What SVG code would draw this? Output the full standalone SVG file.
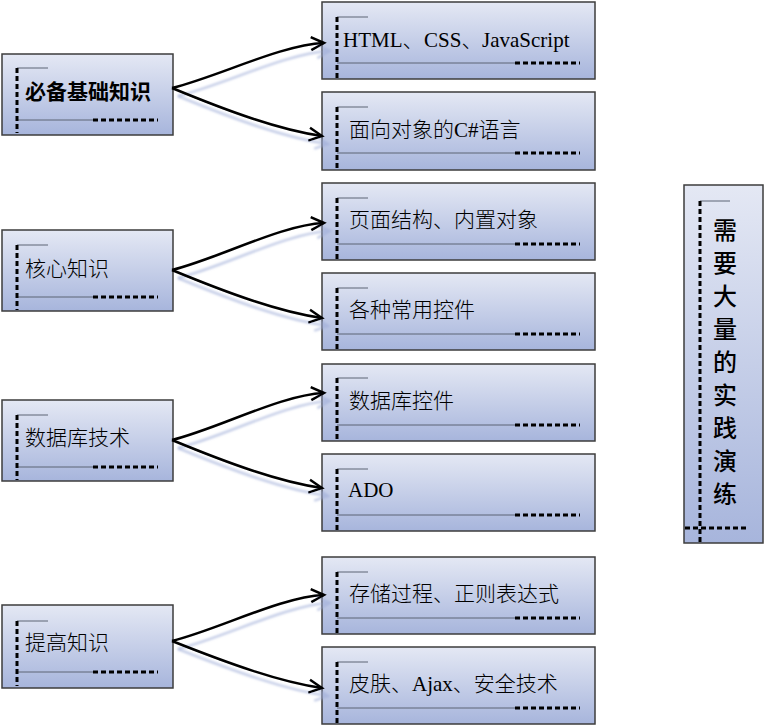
<svg xmlns="http://www.w3.org/2000/svg" width="764" height="726" viewBox="0 0 764 726">
<defs>
<linearGradient id="g" x1="0" y1="0" x2="0" y2="1">
<stop offset="0" stop-color="#e4e8f4"/>
<stop offset="1" stop-color="#a7b5dc"/>
</linearGradient>
<marker id="arr" markerUnits="userSpaceOnUse" viewBox="0 0 18 18" refX="15" refY="9" markerWidth="18" markerHeight="18" orient="auto">
<path d="M2,2.5 L15,9 L2,15.5" fill="none" stroke="#000" stroke-width="2.5" stroke-linejoin="miter"/>
</marker>
<filter id="sh" x="-10%" y="-20%" width="130%" height="160%">
<feDropShadow dx="6" dy="8" stdDeviation="1.2" flood-color="#9fadd8" flood-opacity="0.6"/>
</filter>
</defs>
<style>
.box{fill:url(#g);stroke:#3d3d3d;stroke-width:1.5}
.dv{stroke:#000;stroke-width:3;stroke-dasharray:5 3;fill:none}
.dh{stroke:#000;stroke-width:3;stroke-dasharray:5 3;fill:none}
.thin{stroke:#5d6474;stroke-width:1;fill:none}
.t{font-family:"Liberation Serif","Noto Sans CJK SC",serif;font-size:21px;font-weight:300;fill:#000}
.l{font-family:"Liberation Serif",serif;font-weight:normal}
.b{font-weight:bold}
.v{font-family:"Noto Sans CJK SC",sans-serif;font-size:24px;font-weight:500;fill:#000;text-anchor:middle}
.c{fill:none;stroke:#000;stroke-width:2.5;marker-end:url(#arr);filter:url(#sh)}
</style>

<g id="n1">
<rect class="box" x="2" y="54" width="171" height="81"/>
<line class="thin" x1="17" y1="68" x2="48" y2="68"/>
<line class="thin" x1="17" y1="120" x2="93" y2="120"/>
<line class="dh" x1="93" y1="120" x2="158" y2="120"/>
<line class="dv" x1="17" y1="68" x2="17" y2="133"/>
<text class="t b" x="25" y="99">必备基础知识</text>
</g>
<g id="n2">
<rect class="box" x="2" y="230" width="171" height="81"/>
<line class="thin" x1="17" y1="245" x2="48" y2="245"/>
<line class="thin" x1="17" y1="297" x2="93" y2="297"/>
<line class="dh" x1="93" y1="297" x2="158" y2="297"/>
<line class="dv" x1="17" y1="245" x2="17" y2="310"/>
<text class="t" x="25" y="276">核心知识</text>
</g>
<g id="n3">
<rect class="box" x="2" y="400" width="171" height="81"/>
<line class="thin" x1="17" y1="415" x2="48" y2="415"/>
<line class="thin" x1="17" y1="467" x2="93" y2="467"/>
<line class="dh" x1="93" y1="467" x2="158" y2="467"/>
<line class="dv" x1="17" y1="415" x2="17" y2="480"/>
<text class="t" x="25" y="445">数据库技术</text>
</g>
<g id="n4">
<rect class="box" x="2" y="605" width="171" height="83"/>
<line class="thin" x1="17" y1="621" x2="48" y2="621"/>
<line class="thin" x1="17" y1="672" x2="93" y2="672"/>
<line class="dh" x1="93" y1="672" x2="158" y2="672"/>
<line class="dv" x1="17" y1="621" x2="17" y2="686"/>
<text class="t" x="25" y="650">提高知识</text>
</g>

<g id="r1">
<rect class="box" x="322" y="2" width="273" height="77"/>
<line class="thin" x1="337" y1="17" x2="368" y2="17"/>
<line class="thin" x1="337" y1="63" x2="515" y2="63"/>
<line class="dh" x1="515" y1="63" x2="580" y2="63"/>
<line class="dv" x1="337" y1="17" x2="337" y2="81"/>
<text class="t" x="343" y="47"><tspan class="l">HTML</tspan>、<tspan class="l" x="424">CSS</tspan>、<tspan class="l" x="482">JavaScript</tspan></text>
</g>
<g id="r2">
<rect class="box" x="322" y="92" width="273" height="78"/>
<line class="thin" x1="337" y1="107" x2="368" y2="107"/>
<line class="thin" x1="337" y1="153" x2="515" y2="153"/>
<line class="dh" x1="515" y1="153" x2="580" y2="153"/>
<line class="dv" x1="337" y1="107" x2="337" y2="171"/>
<text class="t" x="349" y="137">面向对象的<tspan class="l">C#</tspan>语言</text>
</g>
<g id="r3">
<rect class="box" x="322" y="183" width="273" height="77"/>
<line class="thin" x1="337" y1="198" x2="368" y2="198"/>
<line class="thin" x1="337" y1="244" x2="515" y2="244"/>
<line class="dh" x1="515" y1="244" x2="580" y2="244"/>
<line class="dv" x1="337" y1="198" x2="337" y2="261"/>
<text class="t" x="349" y="227">页面结构、内置对象</text>
</g>
<g id="r4">
<rect class="box" x="322" y="273" width="273" height="77"/>
<line class="thin" x1="337" y1="288" x2="368" y2="288"/>
<line class="thin" x1="337" y1="334" x2="515" y2="334"/>
<line class="dh" x1="515" y1="334" x2="580" y2="334"/>
<line class="dv" x1="337" y1="288" x2="337" y2="351"/>
<text class="t" x="349" y="317">各种常用控件</text>
</g>
<g id="r5">
<rect class="box" x="322" y="364" width="273" height="77"/>
<line class="thin" x1="337" y1="378" x2="368" y2="378"/>
<line class="thin" x1="337" y1="425" x2="515" y2="425"/>
<line class="dh" x1="515" y1="425" x2="580" y2="425"/>
<line class="dv" x1="337" y1="378" x2="337" y2="442"/>
<text class="t" x="349" y="408">数据库控件</text>
</g>
<g id="r6">
<rect class="box" x="322" y="454" width="273" height="77"/>
<line class="thin" x1="337" y1="469" x2="368" y2="469"/>
<line class="thin" x1="337" y1="515" x2="515" y2="515"/>
<line class="dh" x1="515" y1="515" x2="580" y2="515"/>
<line class="dv" x1="337" y1="469" x2="337" y2="532"/>
<text class="t l" x="348" y="497">ADO</text>
</g>
<g id="r7">
<rect class="box" x="322" y="557" width="273" height="77"/>
<line class="thin" x1="337" y1="572" x2="368" y2="572"/>
<line class="thin" x1="337" y1="618" x2="515" y2="618"/>
<line class="dh" x1="515" y1="618" x2="580" y2="618"/>
<line class="dv" x1="337" y1="572" x2="337" y2="635"/>
<text class="t" x="349" y="601">存储过程、正则表达式</text>
</g>
<g id="r8">
<rect class="box" x="322" y="647" width="273" height="77"/>
<line class="thin" x1="337" y1="662" x2="368" y2="662"/>
<line class="thin" x1="337" y1="708" x2="515" y2="708"/>
<line class="dh" x1="515" y1="708" x2="580" y2="708"/>
<line class="dv" x1="337" y1="662" x2="337" y2="725"/>
<text class="t" x="349" y="691">皮肤、<tspan class="l">Ajax</tspan>、安全技术</text>
</g>

<g id="practice">
<rect class="box" x="684" y="185" width="79" height="358"/>
<line class="thin" x1="700" y1="201" x2="730" y2="201"/>
<line class="dh" x1="685" y1="528" x2="748" y2="528"/>
<line class="dv" x1="700" y1="201" x2="700" y2="543"/>
<text class="v" x="725" y="239">需</text>
<text class="v" x="725" y="272">要</text>
<text class="v" x="725" y="305">大</text>
<text class="v" x="725" y="338">量</text>
<text class="v" x="725" y="371">的</text>
<text class="v" x="725" y="404">实</text>
<text class="v" x="725" y="437">践</text>
<text class="v" x="725" y="470">演</text>
<text class="v" x="725" y="503">练</text>
</g>

<g id="connectors">
<path class="c" d="M172,88 C220,76 280,45 324,43"/>
<path class="c" d="M172,88 C230,112 280,130 322,136"/>
<path class="c" d="M172,270 C220,258 280,225 324,223"/>
<path class="c" d="M172,270 C230,294 280,312 322,318"/>
<path class="c" d="M172,440 C220,428 280,395 324,393"/>
<path class="c" d="M172,440 C230,464 280,482 322,488"/>
<path class="c" d="M172,641 C220,629 280,597 324,595"/>
<path class="c" d="M172,641 C230,664 280,682 322,688"/>
</g>
</svg>
